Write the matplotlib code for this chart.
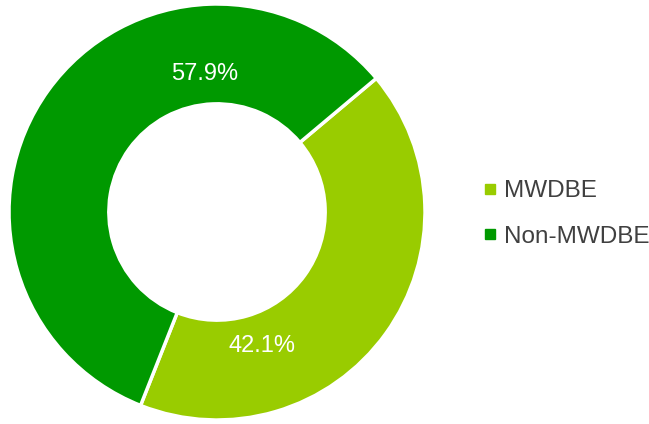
import numpy as np
import matplotlib
matplotlib.use("Agg")
import matplotlib.pyplot as plt
from matplotlib.lines import Line2D

labels = ["MWDBE", "Non-MWDBE"]
values = [42.1, 57.9]
colors = ["#99cc00", "#009900"]
pct_text = ["42.1%", "57.9%"]
# where the value labels sit (angle in degrees, fraction of radius)
label_angle = [-71.4, 95.0]
label_rad = [0.68, 0.665]

plt.rcParams['font.family'] = ['Liberation Sans', 'DejaVu Sans']

fig = plt.figure(figsize=(6.49, 4.24), dpi=100)
cx, cy, r = 217, 212, 208
ax = fig.add_axes([(cx - r) / 649, (424 - cy - r) / 424, 2 * r / 649, 2 * r / 424])

ax.pie(values, colors=colors, startangle=40, counterclock=False, radius=1,
       wedgeprops=dict(width=0.48, edgecolor="white", linewidth=2.5))
ax.set_xlim(-1, 1)
ax.set_ylim(-1, 1)
ax.set_aspect("equal")
ax.axis("off")

for t, a, rr in zip(pct_text, label_angle, label_rad):
    ax.text(rr * np.cos(np.radians(a)), rr * np.sin(np.radians(a)), t,
            ha="center", va="center", color="white", fontsize=17)

handles = [Line2D([], [], marker="s", linestyle="none", markersize=6.5,
                  markerfacecolor=c, markeredgecolor=c) for c in colors]
fig.legend(handles, labels, loc="center left", bbox_to_anchor=(483 / 649, 1 - 214 / 424),
           frameon=False, fontsize=17.5, labelspacing=0.98, handlelength=0.6,
           handletextpad=0.25, borderpad=0, borderaxespad=0, labelcolor="#404040")

fig.savefig("out.png", dpi=100)
